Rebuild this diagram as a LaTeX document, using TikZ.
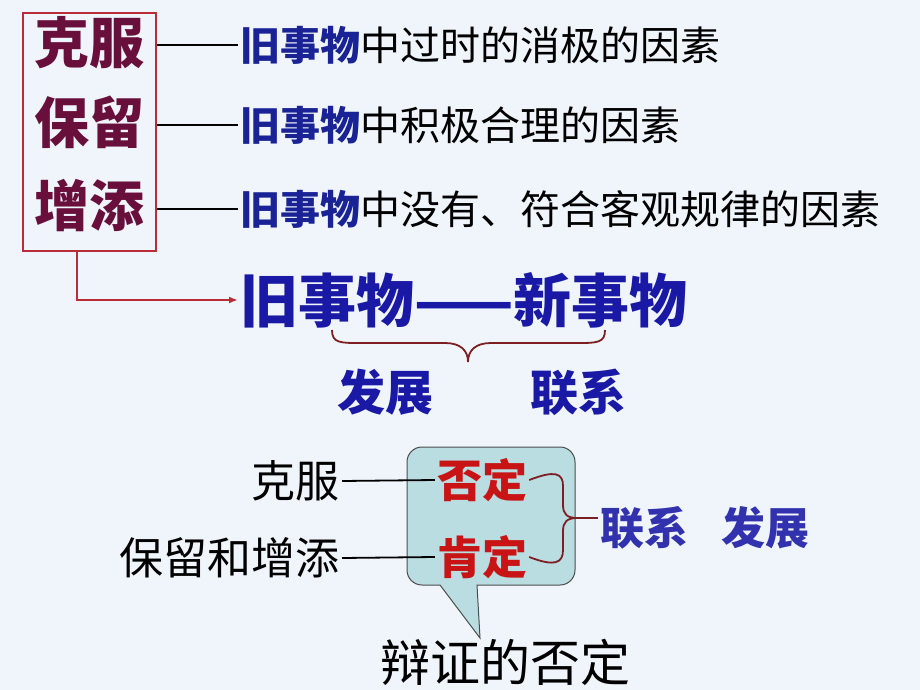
\documentclass[tikz,border=0pt]{standalone}
\usepackage{fontspec}
\setmainfont{Noto Sans CJK SC}
\usepackage{xcolor}
\usetikzlibrary{positioning,arrows.meta}

\definecolor{bgcol}{RGB}{240,245,251}
\definecolor{boxred}{RGB}{185,45,55}
\definecolor{maroon}{RGB}{105,15,60}
\definecolor{oldblue}{RGB}{25,35,150}
\definecolor{bigblue}{RGB}{25,25,165}
\definecolor{lowblue}{RGB}{50,50,175}
\definecolor{negred}{RGB}{200,20,20}
\definecolor{bracecol}{RGB}{125,30,35}
\definecolor{bubble}{RGB}{186,221,226}

\begin{document}
\begin{tikzpicture}[x=1pt,y=-1pt,
		every node/.style={inner sep=2pt},
		redbox/.style={draw=boxred, line width=2pt,
			minimum width=133pt, minimum height=238pt},
		boxtext/.style={font=\fontsize{55}{60}\selectfont\bfseries, text=maroon},
		rowtext/.style={font=\fontsize{40}{44}\selectfont, anchor=west},
		bigtext/.style={font=\fontsize{58}{62}\selectfont\bfseries, anchor=west, text=bigblue},
		midtext/.style={font=\fontsize{48}{52}\selectfont\bfseries, text=bigblue},
		redtext/.style={font=\fontsize{45}{50}\selectfont\bfseries, text=negred},
		plaintext/.style={font=\fontsize{44}{48}\selectfont},
		thinline/.style={draw=black, line width=1.8pt},
		redline/.style={draw=boxred, line width=1.8pt},
		bracket/.style={draw=bracecol, line width=1.8pt},
		callout/.style={fill=bubble, draw=black!70, line width=1pt}]
		\fill[bgcol] (0,0) rectangle (920,690);
		\useasboundingbox (0,0) rectangle (920,690);
		% top box
		\node[redbox] (box) at (89.5,132) {};
		\node[boxtext] (kf) at (89,43) {克服};
		\node[boxtext] (bl) at (89,122) {保留};
		\node[boxtext] (zt) at (89,206) {增添};
		\node[rowtext] (r1) at (238,45) {\textcolor{oldblue}{\bfseries 旧事物}中过时的消极的因素};
		\node[rowtext] (r2) at (238,125) {\textcolor{oldblue}{\bfseries 旧事物}中积极合理的因素};
		\node[rowtext] (r3) at (238,209) {\textcolor{oldblue}{\bfseries 旧事物}中没有、符合客观规律的因素};
		\foreach \r in {r1,r2,r3}
		\draw[thinline] (box.east |- \r.west) -- (\r.west);
		% old and new
		\node[bigtext] (big) at (238,300) {旧事物——新事物};
		\draw[redline, -{Latex[length=9pt,width=7pt]}] ([xshift=-12.5pt]box.south) |- (big.west);
		\draw[bracket] (332,330) .. controls (332,343) and (340,343) .. (360,343) -- (445,343)
		.. controls (460,343) and (468,350) .. (468,362)
		.. controls (468,350) and (476,343) .. (491,343) -- (577,343)
		.. controls (597,343) and (605,343) .. (605,330);
		\node[midtext] (fz) at (385,392) {发展};
		\node[midtext] (lx) at (578,392) {联系};
		% bubble
		\draw[callout] (440,585) [rounded corners=15pt] -- (407,585) -- (407,447) -- (575,447) -- (575,585)
		[sharp corners] -- (477,585) -- (480,638) -- cycle;
		\node[redtext] (fd) at (482,480) {否定};
		\node[redtext] (kd) at (482,557) {肯定};
		\node[plaintext, anchor=east] (kf2) at (342,481) {克服};
		\node[plaintext, anchor=east] (blzt) at (342,558) {保留和增添};
		\draw[thinline] (kf2.east) -- (fd.west);
		\draw[thinline] (blzt.east) -- (kd.west);
		\draw[bracket] (fd.east) .. controls (555,470) and (563,473) .. (563,486) -- (563,505)
		.. controls (563,514) and (567,518) .. (577,518) coordinate (tip)
		.. controls (567,518) and (563,522) .. (563,531) -- (563,550)
		.. controls (563,563) and (555,567) .. (kd.east);
		\node[midtext, font=\fontsize{44}{48}\selectfont\bfseries, text=lowblue, anchor=west] (lxfz) at (598,528) {联系\hspace{0.75em}发展};
		\draw[bracket] (tip) -- (lxfz.west |- tip);
		\node[plaintext, font=\fontsize{50}{54}\selectfont] (bz) at (505,662) {辩证的否定};
\end{tikzpicture}
\end{document}
